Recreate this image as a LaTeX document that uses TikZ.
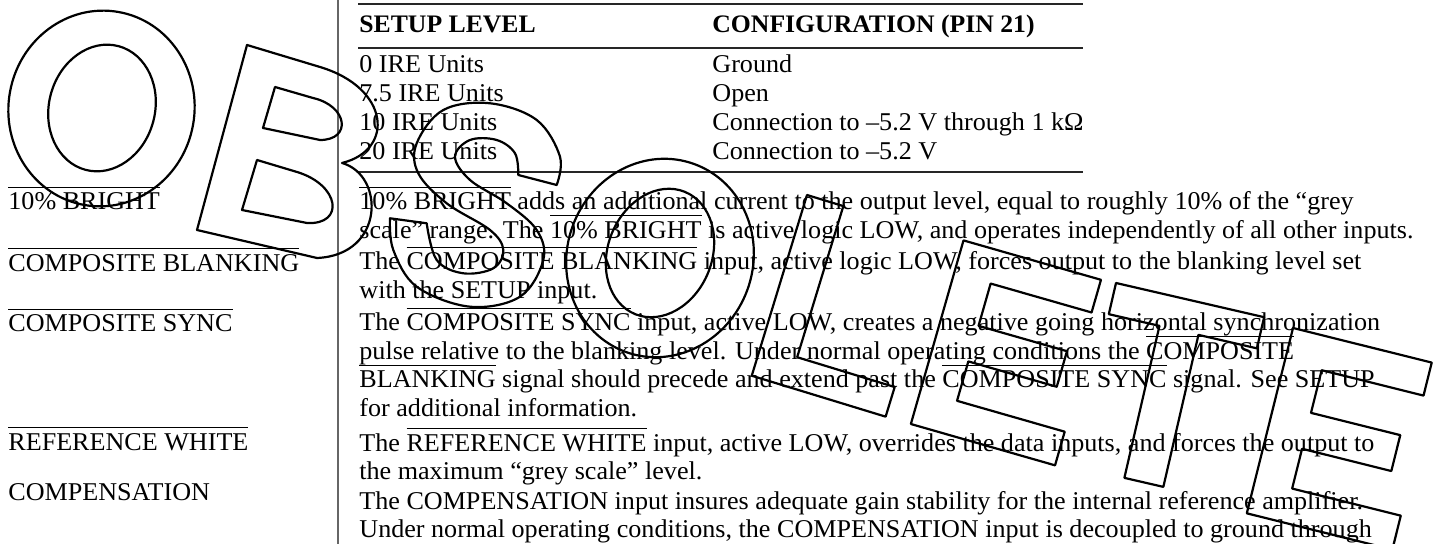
\documentclass[tikz,border=0pt]{standalone}
\usepackage{fontspec}
\setmainfont[FakeStretch=1.02]{Liberation Serif}
\newcommand\ovl[1]{\leavevmode\setbox0\hbox{#1}\rlap{\rule[.87em]{\wd0}{.6pt}}\box0\relax}
\begin{document}
\begin{tikzpicture}[x=.5pt,y=-.5pt,
  txt/.style={anchor=base west,inner sep=0pt,font=\fontsize{12.8}{15}\selectfont},
  hdr/.style={txt,font=\fontsize{12.6}{15}\selectfont\bfseries},
  tabrule/.style={line width=.7pt,black!85},
  stamp/.style={draw=black,line width=1.1pt,line join=round}]
\useasboundingbox (0,0) rectangle (1437,544);
\draw[line width=1pt,black!60] (338,0) -- (338,544);
\foreach \y in {4,48,172}{\draw[tabrule] (358,\y) -- (1083,\y);}
\node[hdr] (h1) at (359,32.5) {SETUP LEVEL};
\node[hdr] (h2) at (712,32.5) {CONFIGURATION (PIN 21)};
\foreach \y/\a/\b [count=\i] in {73/0 IRE Units/Ground,102/7.5 IRE Units/Open,131/10 IRE Units/Connection to –5.2 V through 1 kΩ,160/20 IRE Units/Connection to –5.2 V}{
  \node[txt] (s\i) at (359,\y) {\a};\node[txt] (c\i) at (712,\y) {\b};}
\foreach \y/\t [count=\i] in {210/\ovl{10\% BRIGHT},271.5/\ovl{COMPOSITE BLANKING},332/\ovl{COMPOSITE SYNC},450.5/\ovl{REFERENCE WHITE},501/COMPENSATION}{
  \node[txt] (l\i) at (8,\y) {\t};}
\foreach \y/\t [count=\i] in {
  210/{\ovl{10\% BRIGHT} adds an additional current to the output level, equal to roughly 10\% of the “grey},
  238.5/{scale” range. The \ovl{10\% BRIGHT} is active logic LOW, and operates independently of all other inputs.},
  270/{The \ovl{COMPOSITE BLANKING} input, active logic LOW, forces output to the blanking level set},
  298.5/{with the SETUP input.},
  331/{The \ovl{COMPOSITE SYNC} input, active LOW, creates a negative going horizontal synchronization},
  359.5/{pulse relative to the blanking level. Under normal operating conditions the \ovl{COMPOSITE}},
  388/{\ovl{BLANKING} signal should precede and extend past the \ovl{COMPOSITE SYNC} signal. See SETUP},
  416.5/{for additional information.},
  451.5/{The \ovl{REFERENCE WHITE} input, active LOW, overrides the data inputs, and forces the output to},
  480/{the maximum “grey scale” level.},
  510/{The COMPENSATION input insures adequate gain stability for the internal reference amplifier.},
  538/{Under normal operating conditions, the COMPENSATION input is decoupled to ground through}}{
  \node[txt] (d\i) at (359,\y) {\t};}
\foreach \cx/\cy/\rx/\ry/\r in {101.5/108.5/93/98/-10,102/108/53/64/-15,660/258/93/100/-20,660/253/52/66/-22}{
  \draw[stamp,shift={(\cx,\cy)},rotate=\r] (0,0) ellipse [x radius=\rx,y radius=\ry];}
\draw[stamp] (247,45) -- (320,67) .. controls (390,88) and (395,150) .. (342,163) .. controls (385,175) and (385,255) .. (317,258) -- (197,230) -- cycle;
\draw[stamp] (275,87) -- (313,98) .. controls (348,106) and (352,140) .. (320,140) -- (263,128) -- cycle;
\draw[stamp] (257,160) -- (297,172) .. controls (340,185) and (345,225) .. (307,223) -- (242,210) -- cycle;
\draw[stamp] plot[smooth,tension=.6] coordinates {(556.7,185) (560,156.7) (536.7,120) (490,103.3) (443.3,110) (416.7,143.3) (418.3,173.3) (446.7,203.3) (490,230) (503.3,250) (493.3,268.3) (463.3,273.3) (436.7,260) (426.7,223.3)}
  -- plot[smooth,tension=.6] coordinates {(390,218.3) (393.3,250) (416.7,286.7) (470,306.7) (520,296.7) (543.3,260) (536.7,230) (506.7,203.3) (470,180) (455,156.7) (470,140) (496.7,140) (515,153.3) (518.3,175)} -- cycle;
\draw[stamp,shift={(807,195)},rotate=-17] (0,0) -- (38,0) -- (38,158) -- (140,158) -- (140,189) -- (0,189) -- cycle;
\foreach \px/\py/\r in {963.5/240.4/-16,1293/328/-14}{
  \draw[stamp,shift={(\px,\py)},rotate=\r] (0,0) -- (143,0) -- (143,34) -- (38,34) -- (38,78) -- (130,78) -- (130,115) -- (38,115) -- (38,156) -- (150,156) -- (150,191) -- (0,191) -- cycle;}
\draw[stamp,shift={(1116,283)},rotate=-13] (0,0) -- (152,0) -- (152,32) -- (92,32) -- (92,188) -- (52,188) -- (52,32) -- (0,32) -- cycle;
\end{tikzpicture}
\end{document}
